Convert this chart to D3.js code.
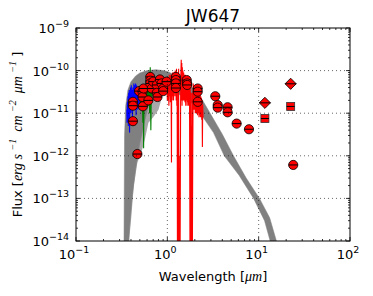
<!DOCTYPE html>
<html>
<head>
<meta charset="utf-8">
<script src="https://cdn.jsdelivr.net/npm/d3@7"></script>
<style>
  body { margin: 0; background: #fff; }
  text { font-family: "DejaVu Sans", sans-serif; fill: #000; }
  .math { font-family: "Liberation Serif", "DejaVu Serif", serif; font-style: italic; }
</style>
</head>
<body>
<svg id="chart" width="373" height="296"></svg>
<script>
// tick exponents
const xTickExp = [-1, 0, 1, 2];
const yTickExp = [-14, -13, -12, -11, -10, -9];

// model envelope (grey), outline
const bandTop = [
  [0.335, 5e-15], [0.34, 3e-12], [0.35, 1.5e-11], [0.37, 3.5e-11], [0.40, 5.5e-11],
  [0.45, 7.5e-11], [0.50, 8.8e-11], [0.60, 1.0e-10], [0.75, 1.05e-10], [0.90, 1.0e-10],
  [1.0, 9.5e-11], [1.2, 8e-11], [1.5, 6e-11], [2.0, 3.5e-11], [2.4, 2.1e-11],
  [2.9, 1.05e-11], [4.0, 3.2e-12], [5.3, 1.0e-12], [7.3, 3e-13], [10.2, 1.0e-13],
  [13.2, 3.5e-14], [17.2, 5e-15]
];
const bandBottom = [
  [14.6, 5e-15], [11.6, 3e-14], [8.8, 1.0e-13], [6.1, 3.5e-13], [4.2, 1.0e-12],
  [3.2, 3.5e-12], [2.3, 1.0e-11], [2.0, 1.5e-11], [1.5, 2.5e-11], [1.0, 3.5e-11],
  [0.9, 3.5e-11], [0.8, 3e-11], [0.7, 2.5e-11], [0.62, 1.5e-11], [0.56, 6e-12],
  [0.50, 2e-12], [0.45, 5e-13], [0.41, 1e-13], [0.385, 2e-14], [0.37, 5e-15]
];
const bandLight = [
  [0.37, 5e-15], [0.40, 3e-14], [0.43, 2e-13], [0.47, 7e-13], [0.52, 1.2e-12],
  [0.57, 2.5e-12], [0.62, 6e-12], [0.70, 8e-12], [0.80, 1.2e-11], [0.88, 2.5e-11],
  [0.70, 6e-11], [0.45, 5e-11], [0.38, 2e-11]
];

// spectra
const blueSpec = [
  [0.360, 1.2e-11], [0.362, 6e-12], [0.365, 1.8e-11], [0.368, 8e-12], [0.371, 2.5e-11],
  [0.374, 5e-12], [0.377, 3e-11], [0.380, 1e-11], [0.383, 3.5e-11], [0.386, 3.5e-12],
  [0.389, 3e-11], [0.392, 1.2e-11], [0.395, 4e-11], [0.399, 1e-11], [0.403, 4.5e-11],
  [0.407, 1.2e-11], [0.411, 3.5e-11], [0.415, 8e-12], [0.420, 4e-11], [0.425, 1.4e-11],
  [0.430, 5e-11], [0.435, 1.5e-11], [0.440, 4.5e-11], [0.445, 1.3e-11], [0.450, 5e-11],
  [0.455, 9e-12], [0.460, 4.5e-11], [0.465, 1.6e-11], [0.470, 4e-11], [0.475, 1.2e-11],
  [0.480, 3.5e-11], [0.485, 1.5e-11], [0.490, 3e-11], [0.495, 1.4e-11], [0.500, 2.5e-11]
];
const greenSpec = [
  [0.50, 1.5e-11], [0.51, 2.5e-11], [0.52, 1.2e-11], [0.53, 3e-11], [0.54, 6e-12],
  [0.545, 2.5e-11], [0.55, 1.5e-12], [0.555, 3e-11], [0.56, 1.5e-11], [0.57, 3.5e-11],
  [0.58, 1.8e-11], [0.59, 4e-11], [0.60, 2e-11], [0.61, 4.5e-11], [0.62, 1.5e-11],
  [0.63, 5e-11], [0.64, 1e-11], [0.65, 1.2e-10], [0.655, 2e-11], [0.66, 4e-12],
  [0.67, 5e-11], [0.68, 2.5e-11], [0.70, 6e-11], [0.72, 3e-11], [0.74, 6e-11],
  [0.76, 3e-11], [0.78, 5.5e-11], [0.80, 3.5e-11], [0.82, 5e-11], [0.85, 4e-11]
];
const redSpec = [
  [0.98, 3e-11], [0.99, 6e-11], [1.00, 2e-11], [1.01, 7e-11], [1.02, 2e-11],
  [1.03, 6e-11], [1.04, 1.5e-11], [1.05, 8e-11], [1.06, 2.5e-11], [1.07, 7e-11],
  [1.08, 1.8e-11], [1.09, 8e-11], [1.10, 3e-11], [1.11, 7e-13], [1.115, 4e-11],
  [1.12, 8e-11], [1.13, 2e-11], [1.14, 9e-11], [1.15, 2.5e-11], [1.16, 8e-11],
  [1.17, 2e-11], [1.18, 9e-11], [1.19, 3e-11], [1.20, 9e-11], [1.21, 2.5e-11],
  [1.22, 1e-10], [1.23, 3e-11], [1.24, 9e-11], [1.25, 2e-11], [1.26, 1.1e-10],
  [1.27, 1.5e-11], [1.28, 8e-11], [1.29, 5e-15], [1.30, 5e-12], [1.31, 5e-15],
  [1.32, 6e-11], [1.33, 1.1e-10], [1.34, 5e-15], [1.35, 1e-12], [1.36, 5e-15],
  [1.37, 2e-13], [1.38, 5e-15], [1.40, 6e-11], [1.42, 1.8e-10], [1.43, 2e-11],
  [1.44, 1.5e-10], [1.45, 1.5e-11], [1.46, 1.2e-10], [1.47, 2e-11], [1.48, 1e-10],
  [1.50, 2e-11], [1.51, 9e-11], [1.53, 2e-11], [1.54, 8e-11], [1.56, 1.8e-11],
  [1.57, 8e-11], [1.59, 1.5e-11], [1.60, 7e-11], [1.62, 2e-11], [1.63, 7e-11],
  [1.65, 1.5e-11], [1.66, 6.5e-11], [1.68, 1.8e-11], [1.69, 6e-11], [1.71, 1.5e-11],
  [1.73, 5.5e-11], [1.75, 2e-11], [1.77, 5e-15], [1.78, 4e-11], [1.80, 5e-15],
  [1.81, 3e-11], [1.82, 5e-15], [1.84, 5e-12], [1.85, 5e-15], [1.87, 3e-11],
  [1.88, 5e-15], [1.90, 2e-12], [1.92, 5e-11], [1.94, 1.2e-11], [1.96, 4.5e-11],
  [1.98, 1.2e-11], [2.00, 4e-11], [2.02, 1e-11], [2.04, 3.8e-11], [2.06, 1e-11],
  [2.08, 3.5e-11], [2.10, 1e-11], [2.12, 3.5e-11], [2.14, 9e-12], [2.16, 3e-11],
  [2.18, 1e-11], [2.20, 3e-11], [2.22, 8e-12], [2.24, 3e-11], [2.26, 9e-12],
  [2.28, 2.8e-11], [2.30, 8e-12], [2.32, 2.5e-11], [2.34, 8e-12], [2.36, 2.3e-11],
  [2.38, 7e-12], [2.40, 2e-11], [2.42, 1.6e-12], [2.44, 1.6e-11], [2.46, 8e-12]
];

// photometry
const circWave = [0.42, 0.42, 0.42, 0.47, 0.49, 0.535, 0.535, 0.55, 0.54, 0.62,
  0.65, 0.65, 0.65, 0.675, 0.70, 0.766, 0.766, 0.78, 0.83, 0.865,
  0.90, 0.90, 0.98, 1.24, 1.24, 1.24, 1.24, 1.63, 1.65, 1.65,
  2.15, 2.15, 2.15, 3.35, 3.56, 3.56, 4.57, 4.57, 5.74, 7.83, 23.9];
const circFlux = [1.85e-11, 1.5e-11, 6.5e-12, 1.1e-12, 3.3e-11, 3.2e-11, 2.4e-11, 3.8e-11, 1.45e-11, 2.0e-11,
  7.1e-11, 5.8e-11, 5.0e-11, 3.8e-11, 5.5e-11, 4.6e-11, 3.0e-11, 2.4e-11, 6.2e-11, 5.0e-11,
  3.8e-11, 3.3e-11, 5.5e-11, 7.1e-11, 6.0e-11, 5.0e-11, 3.9e-11, 6.0e-11, 5.0e-11, 4.6e-11,
  3.8e-11, 3.2e-11, 1.85e-11, 2.5e-11, 1.55e-11, 1.35e-11, 1.38e-11, 1.05e-11, 5.7e-12, 4.2e-12, 6.1e-13];
const diamWave = [11.7, 22.4];
const diamFlux = [1.75e-11, 4.9e-11];
const sqWave = [11.7, 22.4];
const sqFlux = [7.5e-12, 1.44e-11];

const margin = { left: 76, top: 28, right: 23, bottom: 55 };
const W = 373, H = 296;
const x0 = margin.left, x1 = W - margin.right, y0 = margin.top, y1 = H - margin.bottom;

const svg = d3.select('#chart');
const x = d3.scaleLog().domain([0.1, 100]).range([x0, x1]);
const y = d3.scaleLog().domain([1e-14, 1e-9]).range([y1, y0]);

svg.append('defs').append('clipPath').attr('id', 'clip')
  .append('rect').attr('x', x0).attr('y', y0).attr('width', x1 - x0).attr('height', y1 - y0);

const plot = svg.append('g').attr('clip-path', 'url(#clip)');
const pt = (d) => [x(d[0]), y(d[1])];

// grid
const grid = svg.append('g');
xTickExp.slice(1, -1).forEach((e) => {
  grid.append('line').attr('x1', x(10 ** e)).attr('x2', x(10 ** e)).attr('y1', y0).attr('y2', y1)
    .attr('stroke', '#000').attr('stroke-width', 0.6).attr('stroke-dasharray', '1,3');
});
yTickExp.slice(1, -1).forEach((e) => {
  grid.append('line').attr('y1', y(10 ** e)).attr('y2', y(10 ** e)).attr('x1', x0).attr('x2', x1)
    .attr('stroke', '#000').attr('stroke-width', 0.6).attr('stroke-dasharray', '1,3');
});

// model band
plot.append('polygon').attr('points', bandLight.map(pt).join(' ')).attr('fill', '#a8a8a8');
plot.append('polygon').attr('points', bandTop.concat(bandBottom).map(pt).join(' '))
  .attr('fill', '#808080').attr('stroke', '#808080').attr('stroke-width', 0.5);

// spectra
const line = d3.line().x((d) => x(d[0])).y((d) => y(d[1]));
[[blueSpec, '#0000ff'], [greenSpec, '#008000'], [redSpec, '#ff0000']].forEach(([s, c]) => {
  plot.append('path').attr('d', line(s)).attr('fill', 'none').attr('stroke', c).attr('stroke-width', 1.1);
});

// markers
const marks = plot.append('g');
circWave.forEach((w, i) => {
  const cx = x(w), cy = y(circFlux[i]);
  marks.append('circle').attr('cx', cx).attr('cy', cy).attr('r', 4.6)
    .attr('fill', '#ff0000').attr('stroke', '#000').attr('stroke-width', 0.8);
  marks.append('line').attr('x1', cx - 4.6).attr('x2', cx + 4.6).attr('y1', cy).attr('y2', cy)
    .attr('stroke', '#000').attr('stroke-width', 1);
});
diamWave.forEach((w, i) => {
  const cx = x(w), cy = y(diamFlux[i]), s = 5.6;
  marks.append('polygon').attr('points', `${cx},${cy - s} ${cx + s},${cy} ${cx},${cy + s} ${cx - s},${cy}`)
    .attr('fill', '#ff0000').attr('stroke', '#000').attr('stroke-width', 0.8);
  marks.append('line').attr('x1', cx - s).attr('x2', cx + s).attr('y1', cy).attr('y2', cy)
    .attr('stroke', '#000').attr('stroke-width', 1);
});
sqWave.forEach((w, i) => {
  const cx = x(w), cy = y(sqFlux[i]), s = 4;
  marks.append('rect').attr('x', cx - s).attr('y', cy - s).attr('width', 2 * s).attr('height', 2 * s)
    .attr('fill', '#ff0000').attr('stroke', '#333').attr('stroke-width', 0.8);
  marks.append('line').attr('x1', cx - s).attr('x2', cx + s).attr('y1', cy).attr('y2', cy)
    .attr('stroke', '#000').attr('stroke-width', 1);
});

// ticks (inside, all four sides)
const isMajor = (v) => Math.abs(Math.log10(v) - Math.round(Math.log10(v))) < 1e-6;
const ticks = svg.append('g').attr('stroke', '#000').attr('stroke-width', 0.8);
x.ticks().forEach((v) => {
  const len = isMajor(v) ? 4 : 2, px = x(v);
  ticks.append('line').attr('x1', px).attr('x2', px).attr('y1', y1).attr('y2', y1 - len);
  ticks.append('line').attr('x1', px).attr('x2', px).attr('y1', y0).attr('y2', y0 + len);
});
y.ticks().forEach((v) => {
  const len = isMajor(v) ? 4 : 2, py = y(v);
  ticks.append('line').attr('y1', py).attr('y2', py).attr('x1', x0).attr('x2', x0 + len);
  ticks.append('line').attr('y1', py).attr('y2', py).attr('x1', x1).attr('x2', x1 - len);
});

// frame
svg.append('rect').attr('x', x0).attr('y', y0).attr('width', x1 - x0).attr('height', y1 - y0)
  .attr('fill', 'none').attr('stroke', '#000').attr('stroke-width', 1);

// tick labels
const fmtExp = (e) => (e < 0 ? '\u2212' + (-e) : '' + e);
xTickExp.forEach((e) => {
  const t = svg.append('text').attr('x', x(10 ** e) - 2).attr('y', y1 + 18)
    .attr('text-anchor', 'middle').attr('font-size', 13);
  t.append('tspan').text('10');
  t.append('tspan').attr('dy', -6).attr('font-size', 9.5).text(fmtExp(e));
});
yTickExp.forEach((e) => {
  const t = svg.append('text').attr('x', x0 - 7).attr('y', y(10 ** e) + 5)
    .attr('text-anchor', 'end').attr('font-size', 13);
  t.append('tspan').text('10');
  t.append('tspan').attr('dy', -6).attr('font-size', 9.5).text(fmtExp(e));
});

// title
svg.append('text').attr('x', (x0 + x1) / 2).attr('y', 22).attr('text-anchor', 'middle')
  .attr('font-size', 17).text('JW647');

// x label
const xl = svg.append('text').attr('x', (x0 + x1) / 2).attr('y', 281).attr('text-anchor', 'middle')
  .attr('font-size', 13);
xl.append('tspan').text('Wavelength [');
xl.append('tspan').attr('class', 'math').attr('font-size', 14).text('\u03bcm');
xl.append('tspan').text(']');

// y label
const yl = svg.append('text').attr('transform', `translate(22,${(y0 + y1) / 2}) rotate(-90)`)
  .attr('text-anchor', 'middle').attr('font-size', 13);
yl.append('tspan').text('Flux [');
const parts = [['erg s', '\u22121'], ['\u2009cm', '\u22122'], ['\u2009\u03bcm', '\u22121']];
parts.forEach(([b, s]) => {
  yl.append('tspan').attr('class', 'math').attr('font-size', 14).text(b + '\u00a0');
  yl.append('tspan').attr('class', 'math').attr('font-size', 10).attr('dy', -6).text(s);
  yl.append('tspan').attr('dy', 6).text('\u00a0');
});
yl.append('tspan').text(']');
</script>
</body>
</html>
